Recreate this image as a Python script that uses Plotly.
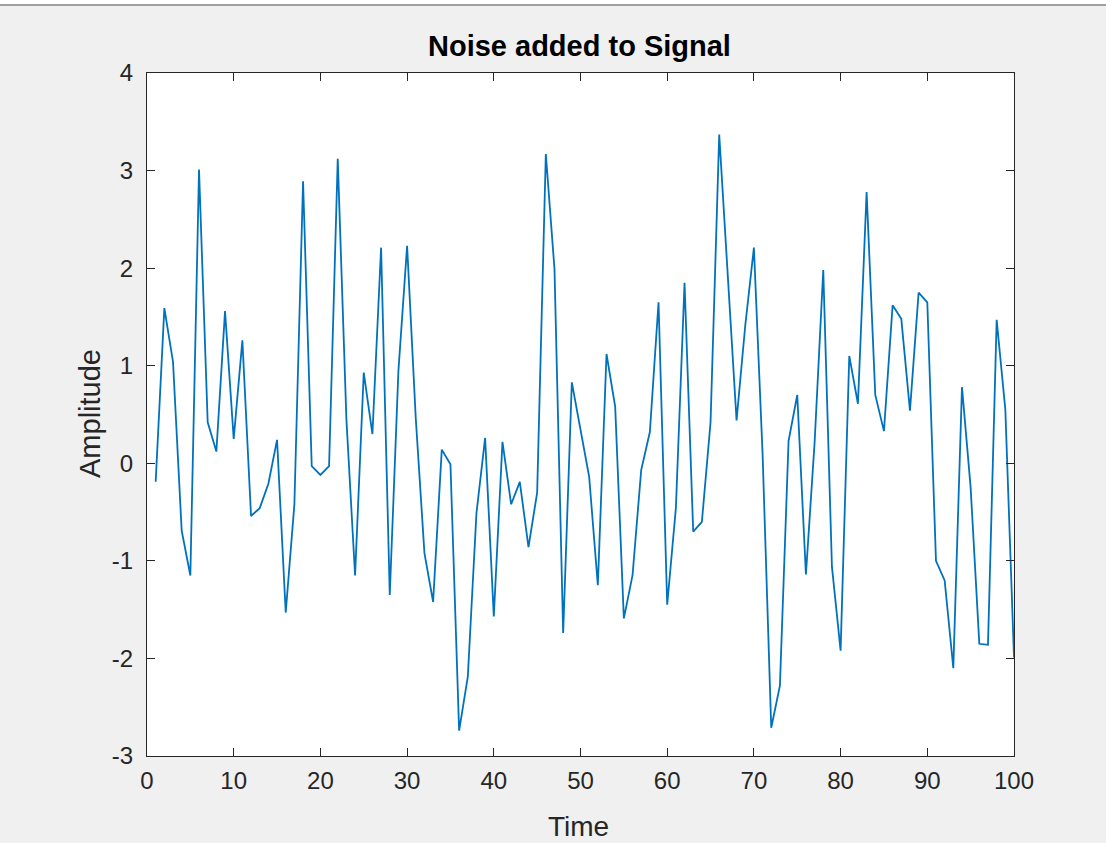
import plotly.graph_objects as go

time = list(range(1, 101))
amplitude = [
    -0.19, 1.59, 1.04, -0.69, -1.15, 3.01, 0.42, 0.12, 1.56, 0.25,
    1.26, -0.54, -0.46, -0.21, 0.24, -1.53, -0.42, 2.89, -0.03, -0.12,
    -0.03, 3.12, 0.45, -1.15, 0.93, 0.30, 2.21, -1.35, 0.95, 2.23,
    0.46, -0.92, -1.42, 0.14, -0.01, -2.74, -2.19, -0.51, 0.26, -1.57,
    0.22, -0.42, -0.19, -0.86, -0.30, 3.17, 1.99, -1.74, 0.83, 0.35,
    -0.14, -1.25, 1.12, 0.58, -1.59, -1.15, -0.07, 0.32, 1.65, -1.45,
    -0.46, 1.85, -0.70, -0.60, 0.42, 3.37, 1.85, 0.44, 1.41, 2.21,
    0.10, -2.71, -2.28, 0.23, 0.70, -1.14, 0.21, 1.98, -1.06, -1.92,
    1.10, 0.61, 2.78, 0.70, 0.33, 1.62, 1.48, 0.54, 1.75, 1.65,
    -1.00, -1.20, -2.10, 0.78, -0.25, -1.85, -1.86, 1.47, 0.55, -1.99,
]
x_ticks = [0, 10, 20, 30, 40, 50, 60, 70, 80, 90, 100]
y_ticks = [-3, -2, -1, 0, 1, 2, 3, 4]

axis_col = "#262626"
font_family = "Liberation Sans, Arial, sans-serif"

fig = go.Figure()
fig.add_trace(go.Scatter(x=time, y=amplitude, mode="lines",
                         line=dict(color="#0072BD", width=1.8),
                         showlegend=False, hoverinfo="skip"))

W, H = 1106, 843
L, R, T, B = 147, 92, 73, 87
pw, ph = W - L - R, H - T - B

common = dict(showgrid=False, zeroline=False, showline=True, mirror="ticks",
              linecolor=axis_col, linewidth=1.2, ticks="inside", ticklen=8,
              tickwidth=1, tickcolor=axis_col,
              tickfont=dict(family=font_family, size=24, color=axis_col))

fig.update_xaxes(range=[0, 100], tickvals=x_ticks, ticklabelstandoff=3,
                 ticktext=[str(v) for v in x_ticks], **common)
fig.update_yaxes(range=[-3, 4], tickvals=y_ticks, ticklabelstandoff=8,
                 ticktext=[str(v) for v in y_ticks], **common)

def px_x(p):
    return (p - L) / pw

def px_y(p):
    return (H - B - p) / ph

fig.update_layout(
    width=W, height=H,
    margin=dict(l=L, r=R, t=T, b=B, autoexpand=False),
    paper_bgcolor="#f0f0f0", plot_bgcolor="white",
    font=dict(family=font_family, color=axis_col),
    annotations=[
        dict(text="<b>Noise added to Signal</b>", xref="paper", yref="paper",
             x=px_x(579), y=px_y(46), xanchor="center", yanchor="middle",
             showarrow=False, font=dict(size=29, color="black", family=font_family)),
        dict(text="Time", xref="paper", yref="paper",
             x=px_x(578), y=px_y(826), xanchor="center", yanchor="middle",
             showarrow=False, font=dict(size=28, color=axis_col, family=font_family)),
        dict(text="Amplitude", xref="paper", yref="paper",
             x=px_x(90), y=px_y(414), xanchor="center", yanchor="middle",
             textangle=-90, showarrow=False,
             font=dict(size=29, color=axis_col, family=font_family)),
    ],
    shapes=[
        dict(type="rect", xref="paper", yref="paper",
             x0=px_x(0), x1=px_x(W), y0=px_y(4), y1=px_y(0),
             fillcolor="white", line=dict(width=0), layer="below"),
        dict(type="line", xref="paper", yref="paper",
             x0=px_x(0), x1=px_x(W), y0=px_y(5), y1=px_y(5),
             line=dict(color="#a0a0a0", width=2)),
    ],
)

fig.write_html("out.html", config={"displayModeBar": False},
               post_script="document.body.style.margin='0';document.body.style.overflow='hidden';")
